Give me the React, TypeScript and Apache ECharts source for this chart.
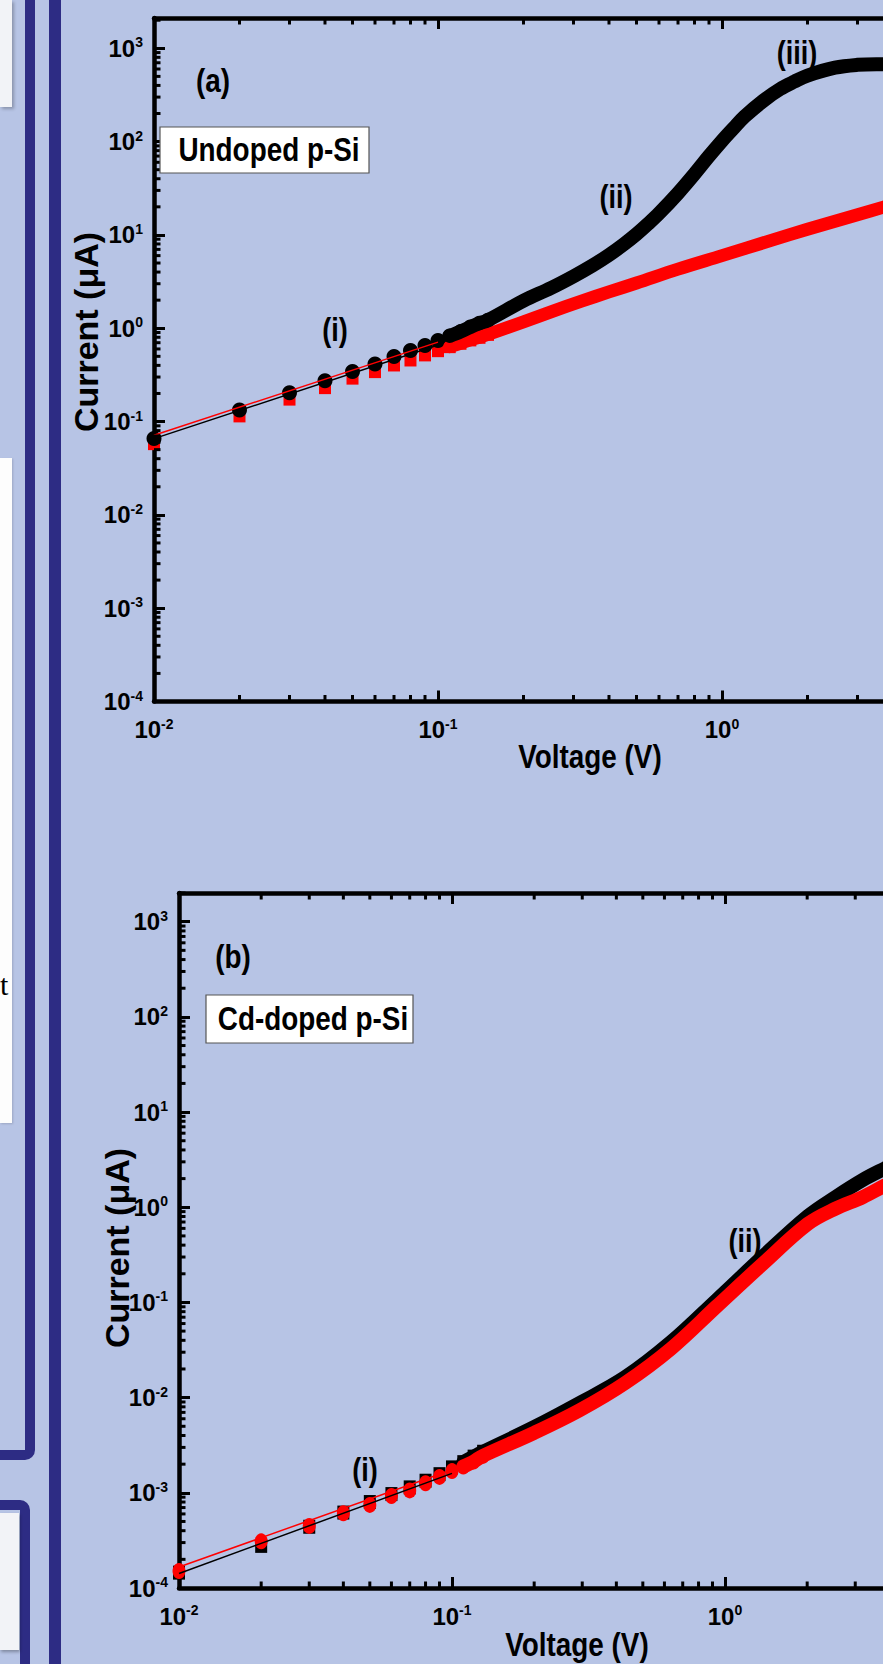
import React, { useEffect, useRef } from "react";
import * as echarts from "echarts";

const NARROW = "'Liberation Sans Narrow', 'Arial Narrow', 'Liberation Sans', Arial, sans-serif";
const WIDE = "'Liberation Sans', Arial, sans-serif";

// ---------- Panel (a): Undoped p-Si ----------
const A_BLACK_V = [0.01, 0.02, 0.03, 0.04, 0.05, 0.06, 0.07, 0.08, 0.09, 0.1, 0.11, 0.12, 0.13, 0.14, 0.15, 0.2, 0.25, 0.3, 0.35, 0.4, 0.45, 0.5, 0.55, 0.6, 0.7, 0.8, 0.9, 1.0, 1.1, 1.2, 1.4, 1.6, 1.8, 2.0, 2.5, 3.0, 3.5, 4.0, 5.0];
const A_BLACK_I = [0.066, 0.133, 0.204, 0.273, 0.343, 0.415, 0.497, 0.576, 0.652, 0.737, 0.828, 0.92, 1.03, 1.13, 1.22, 1.97, 2.7, 3.6, 4.7, 6.1, 7.9, 10.2, 13.2, 17, 28, 45, 70, 102, 140, 185, 275, 365, 440, 510, 620, 665, 675, 672, 665];
const A_RED_V = [0.01, 0.02, 0.03, 0.04, 0.05, 0.06, 0.07, 0.08, 0.09, 0.1, 0.11, 0.12, 0.13, 0.14, 0.15, 0.2, 0.25, 0.32, 0.4, 0.5, 0.7, 1.0, 1.5, 2.0, 3.0, 3.7, 5.0];
const A_RED_I = [0.058, 0.115, 0.174, 0.231, 0.292, 0.343, 0.404, 0.457, 0.518, 0.575, 0.635, 0.69, 0.75, 0.8, 0.86, 1.17, 1.5, 1.95, 2.45, 3.05, 4.3, 6.0, 8.8, 11.5, 16.5, 19.8, 26];
const A_FIT_V = [0.01, 0.1];
const A_FIT_BLACK = [0.0656, 0.66];
const A_FIT_RED = [0.0713, 0.71];

// ---------- Panel (b): Cd-doped p-Si ----------
const B_BLACK_V = [0.01, 0.02, 0.03, 0.04, 0.05, 0.06, 0.07, 0.08, 0.09, 0.1, 0.11, 0.12, 0.13, 0.2, 0.294, 0.431, 0.635, 0.933, 1.37, 2.01, 2.54, 3.2, 3.85, 4.5];
const B_BLACK_I = [1.45e-4, 2.77e-4, 4.4e-4, 6.2e-4, 8.0e-4, 9.7e-4, 1.14e-3, 1.34e-3, 1.57e-3, 1.85e-3, 2.1e-3, 2.4e-3, 2.7e-3, 4.9e-3, 8.8e-3, 0.0164, 0.0385, 0.1067, 0.3, 0.805, 1.28, 1.94, 2.56, 3.2];
const B_RED_V = [0.01, 0.02, 0.03, 0.04, 0.05, 0.06, 0.07, 0.08, 0.09, 0.1, 0.11, 0.12, 0.13, 0.2, 0.294, 0.431, 0.635, 0.933, 1.37, 2.01, 2.54, 3.2, 3.85, 4.5];
const B_RED_I = [1.51e-4, 3.09e-4, 4.49e-4, 6.1e-4, 7.46e-4, 9.25e-4, 1.06e-3, 1.26e-3, 1.47e-3, 1.69e-3, 1.89e-3, 2.13e-3, 2.45e-3, 4.27e-3, 7.4e-3, 0.01426, 0.0328, 0.0912, 0.252, 0.668, 0.968, 1.28, 1.69, 2.1];
const B_FIT_V = [0.01, 0.1];
const B_FIT_BLACK = [1.42e-4, 1.6e-3];
const B_FIT_RED = [1.66e-4, 1.75e-3];

// ---------- Axes ----------
const X_MIN = 0.01;
const X_MAX = 10;
const Y_MIN = 1e-4;
const A_Y_MAX = 2112;
const B_Y_MAX = 2002;
const MINOR_MANTISSAS = [2, 3, 4, 5, 6, 7, 8, 9];
const X_DECADES = [-2, -1, 0];
const Y_DECADES = [-4, -3, -2, -1, 0, 1, 2, 3];

const zip = (xs: number[], ys: number[]) => xs.map((x, i) => [x, ys[i]]);

const minorTickData = (yMax: number) => {
  const out: number[][] = [];
  X_DECADES.forEach((d) =>
    MINOR_MANTISSAS.forEach((m) => out.push([m * Math.pow(10, d), 1, 0]))
  );
  Y_DECADES.forEach((d) =>
    MINOR_MANTISSAS.forEach((m) => {
      const v = m * Math.pow(10, d);
      if (v < yMax) out.push([X_MIN, v, 1]);
    })
  );
  return out;
};

const expLabel = (v: number) => {
  const l = Math.log10(v);
  const r = Math.round(l);
  if (Math.abs(l - r) > 1e-6) return "";
  return `{b|10}{s|${r}}`;
};

const labelRich = {
  b: { fontFamily: WIDE, fontWeight: "bold", fontSize: 24, lineHeight: 26, color: "#000" },
  s: { fontFamily: WIDE, fontWeight: "bold", fontSize: 14, lineHeight: 14, verticalAlign: "top", color: "#000" },
};

const AXIS_LINE = { show: true, lineStyle: { color: "#000", width: 4.5 } };
const MAJOR_TICK = { show: true, inside: true, length: 11, lineStyle: { color: "#000", width: 3 } };

const makeXAxes = (gridIndex: number) => [
  {
    type: "log",
    gridIndex,
    position: "bottom",
    min: X_MIN,
    max: X_MAX,
    axisLine: AXIS_LINE,
    axisTick: MAJOR_TICK,
    splitLine: { show: false },
    axisLabel: { formatter: expLabel, rich: labelRich, margin: 15, showMaxLabel: false },
  },
  {
    type: "log",
    gridIndex,
    position: "top",
    min: X_MIN,
    max: X_MAX,
    axisLine: AXIS_LINE,
    axisTick: MAJOR_TICK,
    splitLine: { show: false },
    axisLabel: { show: false },
  },
];

const makeYAxis = (gridIndex: number, yMax: number) => ({
  type: "log",
  gridIndex,
  position: "left",
  min: Y_MIN,
  max: yMax,
  splitNumber: 7,
  axisLine: AXIS_LINE,
  axisTick: MAJOR_TICK,
  splitLine: { show: false },
  axisLabel: { formatter: expLabel, rich: labelRich, margin: 11 },
});

const minorTickSeries = (xAxisIndex: number, yAxisIndex: number, yMax: number) => ({
  type: "custom",
  xAxisIndex,
  yAxisIndex,
  silent: true,
  z: 5,
  data: minorTickData(yMax),
  renderItem: (_params: any, api: any) => {
    const kind = api.value(2);
    const len = 6.5;
    const st = { stroke: "#000", lineWidth: 3 };
    if (kind === 0) {
      const v = api.value(0);
      const b = api.coord([v, Y_MIN]);
      const t = api.coord([v, yMax]);
      return {
        type: "group",
        children: [
          { type: "line", shape: { x1: b[0], y1: b[1], x2: b[0], y2: b[1] - len }, style: st },
          { type: "line", shape: { x1: t[0], y1: t[1], x2: t[0], y2: t[1] + len }, style: st },
        ],
      };
    }
    const v = api.value(1);
    const l = api.coord([X_MIN, v]);
    return { type: "line", shape: { x1: l[0], y1: l[1], x2: l[0] + len, y2: l[1] }, style: st };
  },
});

const bandSeries = (xAxisIndex: number, yAxisIndex: number, data: number[][], color: string, width: number) => ({
  type: "line",
  xAxisIndex,
  yAxisIndex,
  data,
  smooth: 0.35,
  showSymbol: false,
  silent: true,
  lineStyle: { color, width, cap: "round", join: "round" },
});

const fitSeries = (xAxisIndex: number, yAxisIndex: number, data: number[][], color: string) => ({
  type: "line",
  xAxisIndex,
  yAxisIndex,
  data,
  showSymbol: false,
  silent: true,
  lineStyle: { color, width: 1.5 },
});

const markerSeries = (xAxisIndex: number, yAxisIndex: number, data: number[][], color: string, symbol: string, size: number[]) => ({
  type: "scatter",
  xAxisIndex,
  yAxisIndex,
  data,
  symbol,
  symbolSize: size,
  silent: true,
  itemStyle: { color, opacity: 1 },
});

const txt = (text: string, x: number, y: number, size: number, family = WIDE, rotation = 0, scaleX = 0.82) => ({
  type: "text",
  x,
  y,
  rotation,
  scaleX,
  z: 100,
  style: {
    text,
    fill: "#000",
    font: `bold ${size}px ${family}`,
    align: "center",
    verticalAlign: "middle",
    textAlign: "center",
    textVerticalAlign: "middle",
  },
});

const box = (x: number, y: number, w: number, h: number) => ({
  type: "rect",
  z: 99,
  shape: { x, y, width: w, height: h },
  style: { fill: "#ffffff", stroke: "#555", lineWidth: 1.2 },
});

function App() {
  const ref = useRef<HTMLDivElement>(null);
  useEffect(() => {
    if (!ref.current) return;
    const chart = echarts.init(ref.current, undefined, { renderer: "svg" });
    const aBlack = zip(A_BLACK_V, A_BLACK_I);
    const aRed = zip(A_RED_V, A_RED_I);
    const bBlack = zip(B_BLACK_V, B_BLACK_I);
    const bRed = zip(B_RED_V, B_RED_I);
    chart.setOption({
      animation: false,
      backgroundColor: "transparent",
      textStyle: { fontFamily: WIDE, fontWeight: "bold" },
      grid: [
        { left: 154, top: 18, width: 852, height: 683.5 },
        { left: 179, top: 893, width: 819, height: 695 },
      ],
      xAxis: [...makeXAxes(0), ...makeXAxes(1)],
      yAxis: [makeYAxis(0, A_Y_MAX), makeYAxis(1, B_Y_MAX)],
      series: [
        // panel (a)
        bandSeries(0, 0, aRed.filter((p) => p[0] >= 0.11), "#ff0000", 13),
        markerSeries(0, 0, aRed.filter((p) => p[0] <= 0.15), "#ff0000", "rect", [12, 13]),
        bandSeries(0, 0, aBlack.filter((p) => p[0] >= 0.11), "#000000", 14),
        markerSeries(0, 0, aBlack.filter((p) => p[0] <= 0.15), "#000000", "circle", [15, 15]),
        fitSeries(0, 0, zip(A_FIT_V, A_FIT_BLACK), "#000000"),
        fitSeries(0, 0, zip(A_FIT_V, A_FIT_RED), "#ff0000"),
        minorTickSeries(0, 0, A_Y_MAX),
        // panel (b)
        bandSeries(2, 1, bBlack.filter((p) => p[0] >= 0.11), "#000000", 14),
        markerSeries(2, 1, bBlack.filter((p) => p[0] <= 0.13), "#000000", "rect", [12, 14]),
        bandSeries(2, 1, bRed.filter((p) => p[0] >= 0.11), "#ff0000", 14),
        markerSeries(2, 1, bRed.filter((p) => p[0] <= 0.13), "#ff0000", "circle", [13, 16]),
        fitSeries(2, 1, zip(B_FIT_V, B_FIT_BLACK), "#000000"),
        fitSeries(2, 1, zip(B_FIT_V, B_FIT_RED), "#ff0000"),
        minorTickSeries(2, 1, B_Y_MAX),
      ],
      graphic: [
        // panel (a) annotations
        txt("(a)", 213, 81, 34),
        box(160, 127, 209, 46),
        txt("Undoped p-Si", 269, 150, 34),
        txt("(i)", 335, 330, 33),
        txt("(ii)", 616, 197, 33),
        txt("(iii)", 797, 53, 33),
        txt("Voltage (V)", 590, 757, 34),
        txt("Current (\u03bcA)", 86, 332, 34, WIDE, Math.PI / 2, 1),
        // panel (b) annotations
        txt("(b)", 233, 957, 34),
        box(206, 995, 207, 48),
        txt("Cd-doped p-Si", 313, 1019, 34),
        txt("(i)", 365, 1470, 33),
        txt("(ii)", 745, 1241, 33),
        txt("Voltage (V)", 577, 1645, 34),
        txt("Current (\u03bcA)", 117, 1248, 34, WIDE, Math.PI / 2, 1),
      ],
    });
    return () => chart.dispose();
  }, []);

  const navy = "#2d2c84";
  return (
    <div
      style={{
        position: "fixed",
        left: 0,
        top: 0,
        width: 883,
        height: 1664,
        overflow: "hidden",
        background: "#b7c4e5",
      }}
    >
      {/* left poster decorations */}
      <div style={{ position: "absolute", left: -30, top: -30, width: 45, height: 1470, border: `10px solid ${navy}`, borderRadius: 10 }} />
      <div style={{ position: "absolute", left: 0, top: 0, width: 12, height: 107, background: "#f2f3f7", boxShadow: "2px 2px 3px rgba(0,0,0,0.25)" }} />
      <div style={{ position: "absolute", left: 0, top: 458, width: 12, height: 665, background: "#fdfdfd", boxShadow: "1px 1px 2px rgba(0,0,0,0.15)" }} />
      <div style={{ position: "absolute", left: 0, top: 970, fontFamily: "'Liberation Serif', serif", fontSize: 30, lineHeight: "30px", color: "#000" }}>t</div>
      <div style={{ position: "absolute", left: -30, top: 1500, width: 40, height: 300, border: `10px solid ${navy}`, borderRadius: 10 }} />
      <div style={{ position: "absolute", left: 0, top: 1513, width: 19, height: 137, background: "#f2f3f7", boxShadow: "1px 2px 3px rgba(0,0,0,0.3)" }} />
      <div style={{ position: "absolute", left: 49, top: 0, width: 12, height: 1664, background: navy }} />
      <div ref={ref} style={{ position: "absolute", left: 0, top: 0, width: 1100, height: 1664 }} />
    </div>
  );
}

export default App;
